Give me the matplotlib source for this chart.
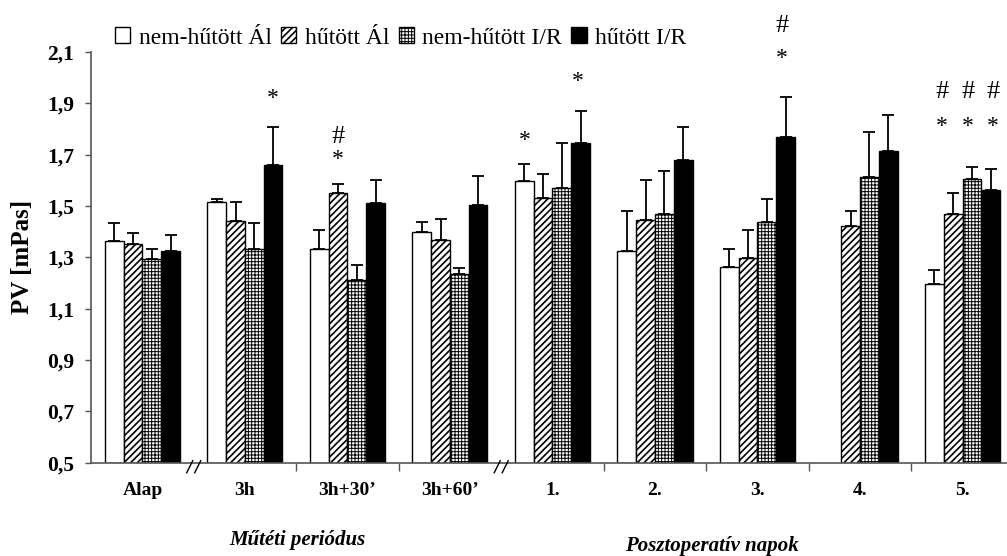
import numpy as np
import matplotlib
matplotlib.use('Agg')
import matplotlib.pyplot as plt
from matplotlib.patches import Patch
import matplotlib.transforms as mtransforms

plt.rcParams['font.family'] = ['Liberation Serif', 'DejaVu Serif']
plt.rcParams['hatch.linewidth'] = 1.1

# ---------------- data ----------------
categories = ['Alap', '3h', '3h+30\u2019', '3h+60\u2019', '1.', '2.', '3.', '4.', '5.']
series_names = ['nem-hűtött Ál', 'hűtött Ál', 'nem-hűtött I/R', 'hűtött I/R']

nem_hutott_al = [1.364, 1.515, 1.332, 1.399, 1.598, 1.325, 1.261, np.nan, 1.196]
hutott_al = [1.353, 1.442, 1.551, 1.367, 1.531, 1.447, 1.298, 1.423, 1.469]
nem_hutott_ir = [1.292, 1.333, 1.210, 1.236, 1.571, 1.469, 1.436, 1.613, 1.604]
hutott_ir = [1.325, 1.659, 1.510, 1.503, 1.747, 1.678, 1.768, 1.715, 1.563]

err_nem_hutott_al = [0.070, 0.014, 0.074, 0.039, 0.066, 0.156, 0.071, np.nan, 0.053]
err_hutott_al = [0.041, 0.073, 0.033, 0.084, 0.093, 0.156, 0.109, 0.058, 0.081]
err_nem_hutott_ir = [0.040, 0.101, 0.060, 0.024, 0.176, 0.168, 0.093, 0.176, 0.048]
err_hutott_ir = [0.061, 0.149, 0.093, 0.114, 0.123, 0.130, 0.156, 0.141, 0.082]

y_ticks = [0.5, 0.7, 0.9, 1.1, 1.3, 1.5, 1.7, 1.9, 2.1]
y_tick_labels = ['0,5', '0,7', '0,9', '1,1', '1,3', '1,5', '1,7', '1,9', '2,1']

# significance marks: (category index, x offset, y value, symbol)
sig_marks = [
    (1, 0.27, 1.92, '*'),
    (2, -0.09, 1.68, '*'),
    (2, -0.09, 1.77, '#'),
    (4, -0.275, 1.755, '*'),
    (4, 0.25, 1.985, '*'),
    (6, 0.24, 2.075, '*'),
    (6, 0.24, 2.20, '#'),
    (8, -0.20, 1.81, '*'),
    (8, 0.05, 1.81, '*'),
    (8, 0.30, 1.81, '*'),
    (8, -0.20, 1.945, '#'),
    (8, 0.05, 1.945, '#'),
    (8, 0.30, 1.945, '#'),
]

group_labels = ['Műtéti periódus', 'Posztoperatív napok']

# ---------------- figure ----------------
fig = plt.figure(figsize=(10.07, 5.56), dpi=100)
ax = fig.add_axes([91 / 1007, (556 - 462.7) / 556, 1 - 91 / 1007, (462.7 - 52) / 556])

values = [nem_hutott_al, hutott_al, nem_hutott_ir, hutott_ir]
errors = [err_nem_hutott_al, err_hutott_al, err_nem_hutott_ir, err_hutott_ir]
faces = ['white', 'white', 'white', 'black']
hatches = [None, '/////', '+++++', None]
hatch_lw = [1.0, 1.2, 0.7, 1.0]


def set_hlw(artist, lw):
    try:
        artist.set_hatch_linewidth(lw)
    except AttributeError:
        pass


x = np.arange(len(categories))
w = 0.183
handles = []
for k in range(4):
    pos = x + (k - 1.5) * w
    vals = np.array(values[k], dtype=float)
    errs = np.array(errors[k], dtype=float)
    mask = ~np.isnan(vals)
    bars = ax.bar(pos[mask], vals[mask] - 0.5, bottom=0.5, width=w, color=faces[k],
                  edgecolor='black', linewidth=1.0, hatch=hatches[k], zorder=2)
    for b in bars:
        set_hlw(b, hatch_lw[k])
    ax.errorbar(pos[mask], vals[mask], yerr=[np.zeros(mask.sum()), errs[mask]],
                fmt='none', ecolor='black', elinewidth=1.3, capsize=4.3,
                capthick=1.3, zorder=3)
    h = Patch(facecolor=faces[k], edgecolor='black', linewidth=1.0,
              hatch=hatches[k], label=series_names[k])
    handles.append(h)

ax.set_ylim(0.5, 2.1)
ax.set_xlim(-0.502, 8.434)
for s in ['top', 'right']:
    ax.spines[s].set_visible(False)
for s in ['left', 'bottom']:
    ax.spines[s].set_color('#555555')
    ax.spines[s].set_linewidth(1.2)

ax.set_yticks(y_ticks)
ax.set_yticklabels(y_tick_labels, fontsize=15.5, fontweight='bold')
ax.tick_params(axis='y', direction='out', length=4, width=1.0, color='#555555', pad=8)

ax.set_xticks([1.5, 2.5, 4.5, 5.5, 6.5, 7.5])
ax.set_xticklabels([])
ax.set_xticks(x, minor=True)
ax.set_xticklabels(categories, minor=True, fontsize=14, fontweight='bold')
ax.tick_params(axis='x', which='major', direction='out', length=6, width=1.0, color='#555555')
ax.tick_params(axis='x', which='minor', length=0, pad=14)

# axis break marks
trans = mtransforms.blended_transform_factory(ax.transData, ax.transAxes)
px = 1 / 102.5
py = 1 / 410.7
for xb in [0.5, 3.5]:
    for dx in [-4, 4]:
        ax.plot([xb + (dx - 3) * px, xb + (dx + 3) * px], [-10 * py, 2 * py],
                color='black', linewidth=1.0, transform=trans, clip_on=False, zorder=5)

# significance marks
for ci, off, yv, sym in sig_marks:
    ax.text(ci + off, yv, sym, ha='center', va='center', fontsize=19 if sym == '#' else 17,
            clip_on=False)

fig.text(23 / 1007, 1 - 257 / 556, 'PV [mPas]', rotation=90, ha='center', va='center',
         fontsize=18, fontweight='bold')

fig.text(297 / 1007, 1 - 540 / 556, group_labels[0], ha='center', va='center',
         fontsize=15, fontweight='bold', fontstyle='italic')
fig.text(712 / 1007, 1 - 546 / 556, group_labels[1], ha='center', va='center',
         fontsize=15, fontweight='bold', fontstyle='italic')

leg = fig.legend(handles=handles, loc='center left', bbox_to_anchor=(115 / 1007, 1 - 38 / 556),
                 bbox_transform=fig.transFigure, ncol=4, frameon=False, fontsize=17,
                 handlelength=0.65, handleheight=0.65, handletextpad=0.35, columnspacing=0.4,
                 borderpad=0, borderaxespad=0)
for k, p in enumerate(leg.get_patches()):
    set_hlw(p, hatch_lw[k])

fig.savefig('out.png', dpi=100)
